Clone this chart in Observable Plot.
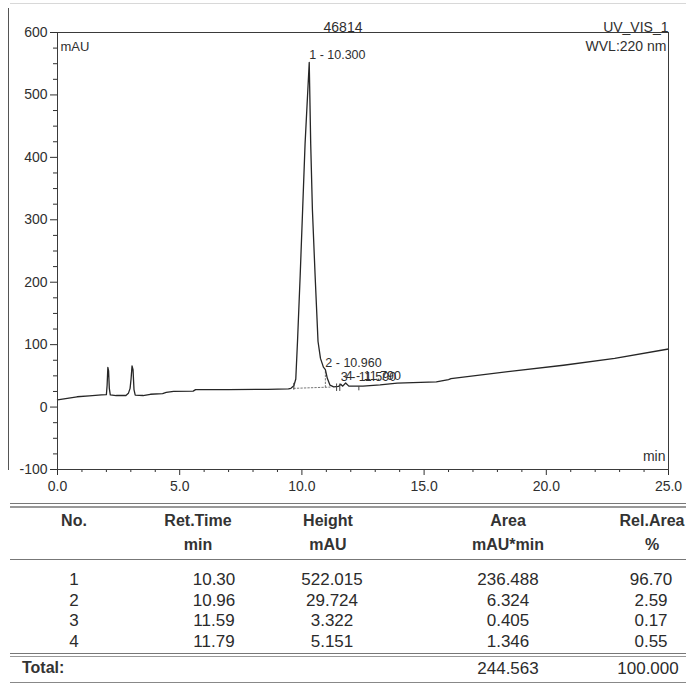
<!DOCTYPE html>
<html>
<head>
<meta charset="utf-8">
<script src="https://cdn.jsdelivr.net/npm/d3@7"></script>
<script src="https://cdn.jsdelivr.net/npm/@observablehq/plot@0.6"></script>
<style>
  html, body { margin: 0; padding: 0; background: #fff; }
  body { font-family: "Liberation Sans", Arial, sans-serif; color: #2b2b2b; }
  #wrap { position: relative; width: 686px; height: 690px; overflow: hidden; background: #fff; }
  #chart { position: absolute; left: 0; top: 0; }
  .cell { position: absolute; white-space: nowrap; transform: translate(-50%, -50%); line-height: 1; font-size: 17px; color: #2b2b2b; }
  .hdr { font-weight: bold; font-size: 16px; color: #333; }
  .left { transform: translate(0, -50%); }
  .hline { position: absolute; left: 10px; right: 0; height: 0; border-top: 1px solid #666; }
  .vline { position: absolute; width: 0; border-left: 1px solid #555; }
</style>
</head>
<body>
<div id="wrap">
  <div id="chart"></div>
</div>
<script>
// ---------- chart texts ----------
const sampleName = "46814";
const channelName = "UV_VIS_1";
const wavelengthLabel = "WVL:220 nm";
const yUnitLabel = "mAU";
const xUnitLabel = "min";

// ---------- chromatogram trace ----------
const traceTime = [
  0.00, 0.40, 0.80, 1.30, 1.80, 2.00, 2.03, 2.06, 2.09, 2.12, 2.16, 2.40, 2.80, 2.90, 2.97,
  3.01, 3.05, 3.09, 3.13, 3.18, 3.50, 3.80, 4.30, 4.45, 4.75, 5.55, 5.65, 7.00, 8.60, 9.45,
  9.55, 9.67, 9.75, 9.82, 9.93, 10.03, 10.13, 10.30, 10.36, 10.43, 10.54, 10.66, 10.76, 10.88, 10.96,
  11.04, 11.15, 11.30, 11.50, 11.59, 11.67, 11.79, 11.92, 12.50, 13.20, 13.90, 15.50, 16.00, 16.10,
  18.70, 20.70, 22.80, 25.00
];
const traceMAU = [
  11.5, 14, 16.5, 18, 19.5, 20, 35, 63.5, 58, 30, 19.5, 18.5, 18.5, 22, 30,
  45, 66, 60, 28, 19, 18.5, 20.5, 21.5, 23.5, 25, 25.5, 28, 28, 28.5, 29,
  30, 34, 45, 105, 211, 316, 422, 552, 422, 316, 211, 105, 78, 64, 60,
  46, 35, 32.5, 33, 36.5, 33.5, 38.5, 33.5, 33.5, 35.5, 38.5, 40.5, 44, 45.5,
  58, 67, 78, 93
];

// ---------- peak table ----------
const peakNo      = [1, 2, 3, 4];
const peakRetTime = [10.30, 10.96, 11.59, 11.79];
const peakHeight  = [522.015, 29.724, 3.322, 5.151];
const peakArea    = [236.488, 6.324, 0.405, 1.346];
const peakRelArea = [96.70, 2.59, 0.17, 0.55];
const peakApexMAU = [552, 60, 36.5, 38.5];   // signal at apex
const totalArea   = "244.563";
const totalRel    = "100.000";

// peak integration helpers seen in the picture
const baseTime = [9.67, 11.15];
const baseMAU  = [30, 32];
const dropTime = [10.96, 10.96];
const dropMAU  = [32, 60];
const markTime = [9.67, 11.42, 11.55, 12.33];
const markLow  = [27, 25, 25, 26];
const markHigh = [38, 37, 37, 33];

// ---------- axes ticks ----------
const xTicks = [0, 5, 10, 15, 20, 25];
const yTicks = [-100, 0, 100, 200, 300, 400, 500, 600];
const xMinorTicks = [1, 2, 3, 4, 6, 7, 8, 9, 11, 12, 13, 14, 16, 17, 18, 19, 21, 22, 23, 24];
const yMinorTicks = [-75, -50, -25, 25, 50, 75, 125, 150, 175, 225, 250, 275, 325, 350, 375,
                     425, 450, 475, 525, 550, 575];

// ---------- table headers ----------
const colHeaders = ["No.", "Ret.Time", "Height", "Area", "Rel.Area"];
const colUnits   = ["", "min", "mAU", "mAU*min", "%"];

// ---------- build data ----------
const trace = traceTime.map((t, i) => ({t, v: traceMAU[i]}));
const peaks = peakNo.map((n, i) => ({
  t: peakRetTime[i], v: peakApexMAU[i],
  label: `${n} - ${peakRetTime[i].toFixed(3)}`
}));
const base = baseTime.map((t, i) => ({t, v: baseMAU[i]}));
const drop = dropTime.map((t, i) => ({t, v: dropMAU[i]}));
const marks = markTime.map((t, i) => ({t, lo: markLow[i], hi: markHigh[i]}));

const ink = "#2f2f2f";
const font = '"Liberation Sans", Arial, sans-serif';

const chart = Plot.plot({
  width: 686,
  height: 500,
  marginLeft: 57,
  marginRight: 18,
  marginTop: 32,
  marginBottom: 31,
  style: {fontFamily: font, fontSize: "14px", color: ink, background: "transparent", overflow: "visible"},
  x: {domain: [0, 25], ticks: xTicks, tickFormat: d => d.toFixed(1), tickSize: 6, tickPadding: 6, label: null},
  y: {domain: [-100, 600], ticks: yTicks, tickFormat: d => String(d), tickSize: 7, tickPadding: 3, label: null},
  marks: [
    Plot.ruleX(xMinorTicks, {x: d => d, y1: -100, y2: -100, insetBottom: -3, stroke: ink}),
    Plot.ruleY(yMinorTicks, {y: d => d, x1: 0, x2: 0, insetLeft: -4, stroke: ink}),
    Plot.line(base, {x: "t", y: "v", stroke: "#777", strokeDasharray: "1.5,2", strokeWidth: 1}),
    Plot.line(drop, {x: "t", y: "v", stroke: "#777", strokeDasharray: "1.5,2", strokeWidth: 1}),
    Plot.line(trace, {x: "t", y: "v", stroke: "#262626", strokeWidth: 1.3, curve: "linear"}),
    Plot.ruleX(marks, {x: "t", y1: "lo", y2: "hi", stroke: "#444", strokeWidth: 1}),
    Plot.text(peaks, {x: "t", y: "v", text: "label", textAnchor: "start", lineAnchor: "bottom",
      dy: -3, fontSize: 12.5, fill: ink}),
    Plot.frame({stroke: "#3a3a3a"}),
    Plot.text([sampleName], {text: d => d, frameAnchor: "top", textAnchor: "middle", dx: -20, dy: -10, fontSize: 14, fill: ink}),
    Plot.text([channelName], {text: d => d, frameAnchor: "top-right", textAnchor: "end", dy: -10, fontSize: 14, fill: ink}),
    Plot.text([wavelengthLabel], {text: d => d, frameAnchor: "top-right", textAnchor: "end", dx: -2, dy: 9, fontSize: 14, fill: ink}),
    Plot.text([yUnitLabel], {text: d => d, frameAnchor: "top-left", textAnchor: "start", dx: 3, dy: 9, fontSize: 13, fill: ink}),
    Plot.text([xUnitLabel], {text: d => d, frameAnchor: "bottom-right", textAnchor: "end", dx: -3, dy: -9, fontSize: 14, fill: ink})
  ]
});
document.getElementById("chart").appendChild(chart);

// ---------- page decorations and table (HTML) ----------
const wrap = document.getElementById("wrap");
function add(cls, text, left, top, extra) {
  const d = document.createElement("div");
  d.className = cls;
  if (text !== null) d.textContent = text;
  d.style.left = left + "px";
  d.style.top = top + "px";
  if (extra) Object.assign(d.style, extra);
  wrap.appendChild(d);
  return d;
}
// left page border line and faint top line
add("vline", null, 8, 8, {height: "462px"});
add("hline", null, 10, 3, {borderTop: "1px solid #d8d8d8"});

// table rules
add("hline", null, 10, 503, {borderTop: "1px solid #777"});
add("hline", null, 10, 506, {borderTop: "2px solid #999"});
add("hline", null, 10, 559, {borderTop: "1px solid #777"});
add("hline", null, 10, 653, {borderTop: "1px solid #777"});
add("hline", null, 10, 656, {borderTop: "1px solid #999"});
add("hline", null, 10, 682, {borderTop: "1px solid #888"});

const hdrX = [74, 198, 328, 508, 652];
const valX = [74, 214, 332, 508, 651];
colHeaders.forEach((h, i) => add("cell hdr", h, hdrX[i], 521));
colUnits.forEach((u, i) => { if (u) add("cell hdr", u, hdrX[i], 545); });

const rowY = [579, 599.5, 620, 640.5];
peakNo.forEach((n, r) => {
  const vals = [String(n), peakRetTime[r].toFixed(2), peakHeight[r].toFixed(3),
                peakArea[r].toFixed(3), peakRelArea[r].toFixed(2)];
  vals.forEach((v, c) => add("cell", v, valX[c], rowY[r]));
});
add("cell hdr left", "Total:", 22, 668);
add("cell", totalArea, valX[3], 668);
add("cell", totalRel, valX[4] - 3, 668);
</script>
</body>
</html>
